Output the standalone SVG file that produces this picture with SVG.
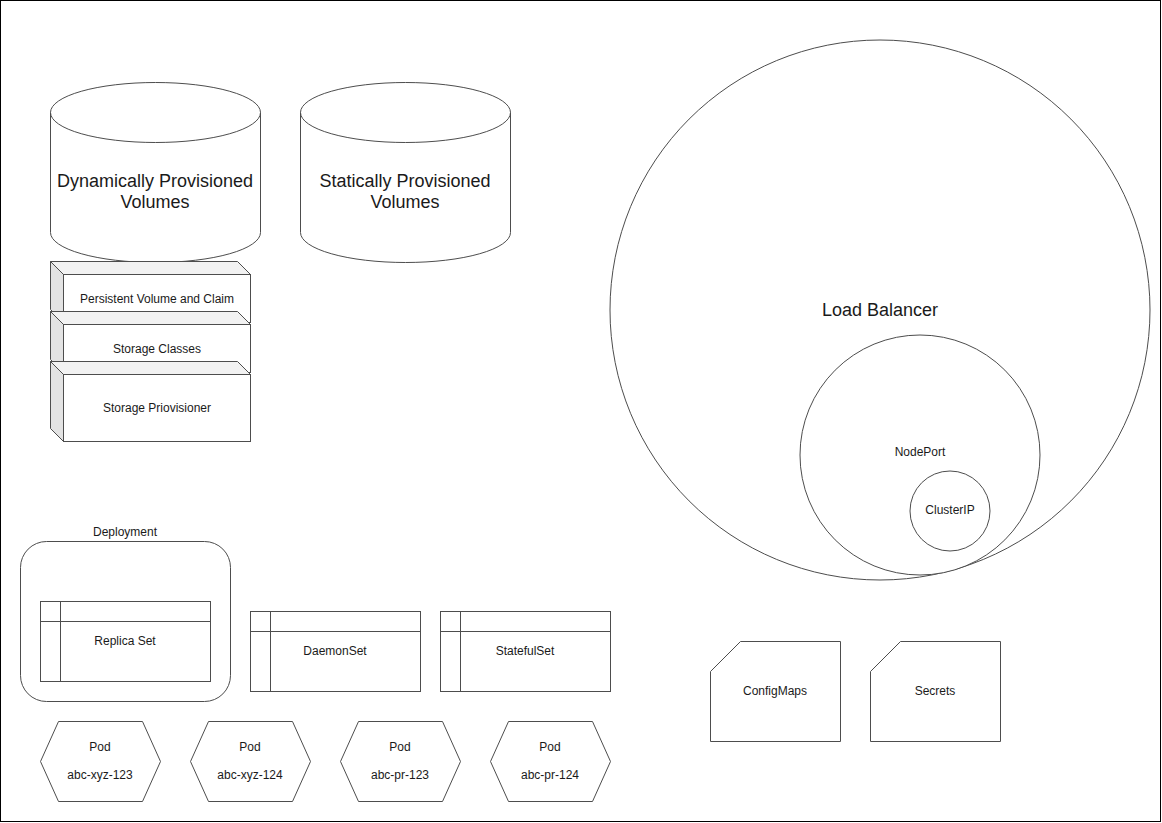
<svg xmlns="http://www.w3.org/2000/svg" width="1162" height="823" viewBox="0 0 1162 823">
<style>
.s{fill:#fff;stroke:#4d4d4d;stroke-width:1}
.n{fill:none;stroke:#4d4d4d;stroke-width:1}
.t{font-family:"Liberation Sans",Arial,sans-serif;font-size:12px;fill:#1a1a1a;text-anchor:middle;dominant-baseline:central}
.L{font-size:18px}
.top{fill:#f2f2f2;stroke:#4d4d4d;stroke-width:1}
.side{fill:#e3e3e3;stroke:#4d4d4d;stroke-width:1}
</style>
<rect x="0.5" y="0.5" width="1160" height="821" fill="#fff" stroke="#000"/>
<g id="connectors"></g>
<g id="dynamic-volumes">
<path class="s" d="M50.5,112.5 A105,30 0 0 1 260.5,112.5 L260.5,232.5 A105,30 0 0 1 50.5,232.5 Z"/>
<path class="n" d="M50.5,112.5 A105,30 0 0 0 260.5,112.5"/>
<text class="t L" x="155" y="181">Dynamically Provisioned</text>
<text class="t L" x="155" y="202">Volumes</text>
</g>
<g id="static-volumes">
<path class="s" d="M300.5,112.5 A105,30 0 0 1 510.5,112.5 L510.5,232.5 A105,30 0 0 1 300.5,232.5 Z"/>
<path class="n" d="M300.5,112.5 A105,30 0 0 0 510.5,112.5"/>
<text class="t L" x="405" y="181">Statically Provisioned</text>
<text class="t L" x="405" y="202">Volumes</text>
</g>
<g id="pvc">
<polygon class="top" points="50.5,261.5 237.5,261.5 250.5,274.5 63.5,274.5"/>
<polygon class="side" points="50.5,261.5 63.5,274.5 63.5,322.5 50.5,309.5"/>
<rect class="s" x="63.5" y="274.5" width="187" height="48"/>
<text class="t" x="157" y="299">Persistent Volume and Claim</text>
</g>
<g id="storage-classes">
<polygon class="top" points="50.5,311.5 237.5,311.5 250.5,324.5 63.5,324.5"/>
<polygon class="side" points="50.5,311.5 63.5,324.5 63.5,372.5 50.5,359.5"/>
<rect class="s" x="63.5" y="324.5" width="187" height="48"/>
<text class="t" x="157" y="349">Storage Classes</text>
</g>
<g id="storage-provisioner">
<polygon class="top" points="50.5,361.5 237.5,361.5 250.5,374.5 63.5,374.5"/>
<polygon class="side" points="50.5,361.5 63.5,374.5 63.5,441.5 50.5,428.5"/>
<rect class="s" x="63.5" y="374.5" width="187" height="67"/>
<text class="t" x="157" y="408">Storage Priovisioner</text>
</g>
<g id="load-balancer">
<circle class="s" cx="880" cy="310" r="270"/>
<text class="t L" x="880" y="310">Load Balancer</text>
</g>
<g id="nodeport">
<circle class="s" cx="920" cy="455" r="120"/>
<text class="t" x="920" y="452">NodePort</text>
</g>
<g id="clusterip">
<circle class="s" cx="950" cy="511" r="40"/>
<text class="t" x="950" y="510">ClusterIP</text>
</g>
<g id="deployment">
<rect class="s" x="20.5" y="541.5" width="210" height="160" rx="26" ry="26"/>
<text class="t" x="125" y="532">Deployment</text>
</g>
<g id="replica-set">
<rect class="s" x="40.5" y="601.5" width="170" height="80"/>
<path class="n" d="M40.5,621.5 H210.5 M60.5,601.5 V681.5"/>
<text class="t" x="125" y="641">Replica Set</text>
</g>
<g id="daemonset">
<rect class="s" x="250.5" y="611.5" width="170" height="80"/>
<path class="n" d="M250.5,631.5 H420.5 M270.5,611.5 V691.5"/>
<text class="t" x="335" y="651">DaemonSet</text>
</g>
<g id="statefulset">
<rect class="s" x="440.5" y="611.5" width="170" height="80"/>
<path class="n" d="M440.5,631.5 H610.5 M460.5,611.5 V691.5"/>
<text class="t" x="525" y="651">StatefulSet</text>
</g>
<g id="pod1">
<polygon class="s" points="58.5,721.5 142.5,721.5 160.5,761.5 142.5,801.5 58.5,801.5 40.5,761.5"/>
<text class="t" x="100" y="747">Pod</text>
<text class="t" x="100" y="775">abc-xyz-123</text>
</g>
<g id="pod2">
<polygon class="s" points="208.5,721.5 292.5,721.5 310.5,761.5 292.5,801.5 208.5,801.5 190.5,761.5"/>
<text class="t" x="250" y="747">Pod</text>
<text class="t" x="250" y="775">abc-xyz-124</text>
</g>
<g id="pod3">
<polygon class="s" points="358.5,721.5 442.5,721.5 460.5,761.5 442.5,801.5 358.5,801.5 340.5,761.5"/>
<text class="t" x="400" y="747">Pod</text>
<text class="t" x="400" y="775">abc-pr-123</text>
</g>
<g id="pod4">
<polygon class="s" points="508.5,721.5 592.5,721.5 610.5,761.5 592.5,801.5 508.5,801.5 490.5,761.5"/>
<text class="t" x="550" y="747">Pod</text>
<text class="t" x="550" y="775">abc-pr-124</text>
</g>
<g id="configmaps">
<polygon class="s" points="740.5,641.5 840.5,641.5 840.5,741.5 710.5,741.5 710.5,671.5"/>
<text class="t" x="775" y="691">ConfigMaps</text>
</g>
<g id="secrets">
<polygon class="s" points="900.5,641.5 1000.5,641.5 1000.5,741.5 870.5,741.5 870.5,671.5"/>
<text class="t" x="935" y="691">Secrets</text>
</g>
</svg>
